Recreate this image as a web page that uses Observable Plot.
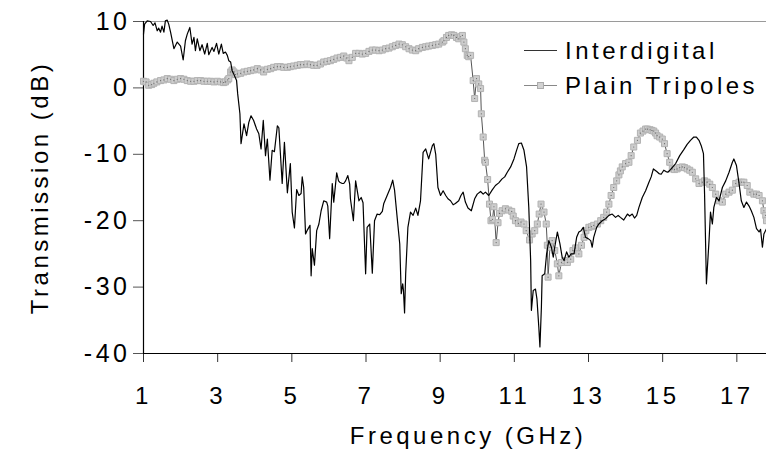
<!DOCTYPE html>
<html>
<head>
<meta charset="utf-8">
<script src="https://cdn.jsdelivr.net/npm/d3@7"></script>
<script src="https://cdn.jsdelivr.net/npm/@observablehq/plot@0.6"></script>
<style>
  html, body { margin: 0; padding: 0; background: #fff; }
  #wrap { position: relative; width: 766px; height: 466px; overflow: hidden; }
  #wrap svg text { letter-spacing: 3.5px; }
  #legend { position: absolute; left: 0; top: 0; }
  #legend text { letter-spacing: 4.5px; }
</style>
</head>
<body>
<div id="wrap"></div>
<script>
// Measured transmission spectra: [frequency in GHz, transmission in dB]
const seriesNames = ["Interdigital", "Plain Tripoles"];

const interdigital = [
  [1.00, 8.1], [1.03, 9.6], [1.10, 10.1], [1.19, 10.0], [1.26, 9.4], [1.31, 9.8], [1.37, 8.6], [1.41, 9.0],
  [1.46, 8.4], [1.50, 9.3], [1.55, 8.4], [1.59, 10.1], [1.64, 10.2], [1.68, 9.6], [1.73, 8.4], [1.82, 5.9],
  [1.91, 6.9], [2.00, 6.3], [2.07, 4.2], [2.13, 7.1], [2.18, 8.1], [2.25, 9.1], [2.31, 6.6], [2.36, 7.6],
  [2.40, 5.6], [2.45, 7.4], [2.52, 5.6], [2.58, 6.5], [2.65, 5.1], [2.72, 6.7], [2.76, 5.0], [2.85, 6.1],
  [2.90, 5.5], [2.97, 6.7], [3.03, 5.1], [3.10, 6.6], [3.15, 5.2], [3.21, 5.4], [3.26, 4.9], [3.30, 4.1],
  [3.35, 3.9], [3.39, 2.6], [3.44, 2.0], [3.51, 1.1], [3.54, -0.9], [3.60, -3.9], [3.63, -8.4], [3.71, -5.4],
  [3.78, -7.2], [3.84, -5.2], [3.90, -4.2], [3.97, -4.9], [4.05, -6.2], [4.11, -6.9], [4.17, -9.2], [4.23, -4.9],
  [4.29, -10.2], [4.34, -7.7], [4.41, -13.9], [4.47, -9.4], [4.53, -9.6], [4.61, -5.7], [4.65, -6.0], [4.74, -14.4],
  [4.80, -8.2], [4.88, -15.8], [4.96, -11.4], [5.01, -18.7], [5.07, -21.1], [5.13, -15.3], [5.19, -16.2], [5.25, -15.9],
  [5.28, -13.4], [5.32, -15.0], [5.37, -22.0], [5.41, -21.5], [5.49, -20.7], [5.52, -28.3], [5.55, -24.2], [5.61, -26.7],
  [5.67, -21.5], [5.73, -20.5], [5.79, -18.5], [5.86, -17.0], [5.94, -17.2], [5.97, -17.8], [6.02, -22.7], [6.09, -14.4],
  [6.13, -17.2], [6.21, -12.8], [6.26, -14.0], [6.29, -14.2], [6.36, -14.4], [6.40, -14.4], [6.45, -14.0], [6.51, -13.2],
  [6.56, -14.5], [6.58, -16.7], [6.66, -20.0], [6.72, -14.0], [6.81, -17.0], [6.87, -16.5], [6.92, -17.3], [6.99, -28.0],
  [7.03, -21.0], [7.10, -20.5], [7.17, -27.9], [7.23, -20.0], [7.30, -19.0], [7.37, -19.1], [7.44, -18.6], [7.48, -17.4],
  [7.57, -16.2], [7.66, -15.0], [7.72, -13.9], [7.77, -15.4], [7.84, -19.5], [7.91, -23.5], [7.95, -31.0], [7.99, -29.5],
  [8.01, -30.5], [8.04, -33.9], [8.07, -28.0], [8.13, -21.0], [8.20, -18.7], [8.27, -19.2], [8.34, -18.1], [8.40, -19.2],
  [8.47, -17.0], [8.54, -9.7], [8.61, -9.2], [8.69, -10.7], [8.79, -8.7], [8.83, -8.4], [8.88, -10.0], [8.94, -15.0],
  [9.01, -16.2], [9.08, -15.5], [9.15, -16.2], [9.21, -16.7], [9.28, -17.0], [9.35, -17.6], [9.41, -17.4], [9.50, -17.0],
  [9.56, -16.2], [9.62, -15.7], [9.68, -17.2], [9.75, -18.1], [9.84, -18.5], [9.93, -16.7], [10.00, -16.0], [10.09, -15.6],
  [10.16, -16.0], [10.22, -15.7], [10.31, -16.2], [10.40, -15.4], [10.49, -14.7], [10.58, -14.3], [10.67, -13.7], [10.74, -13.4],
  [10.81, -12.7], [10.90, -11.9], [10.99, -10.7], [11.06, -9.4], [11.12, -8.4], [11.19, -8.3], [11.26, -9.4], [11.33, -11.9],
  [11.39, -18.0], [11.44, -26.0], [11.46, -33.5], [11.51, -30.5], [11.57, -30.3], [11.61, -31.8], [11.66, -36.0], [11.69, -39.0],
  [11.73, -33.0], [11.75, -28.3], [11.82, -28.0], [11.87, -25.0], [11.93, -23.0], [12.00, -24.0], [12.05, -25.5], [12.08, -24.3],
  [12.16, -21.7], [12.23, -23.5], [12.29, -25.5], [12.34, -26.0], [12.41, -24.7], [12.47, -25.5], [12.53, -25.0], [12.61, -25.0],
  [12.68, -22.5], [12.74, -21.7], [12.80, -21.5], [12.86, -21.0], [12.92, -22.5], [12.99, -22.7], [13.06, -23.0], [13.10, -24.0],
  [13.14, -22.5], [13.22, -21.0], [13.28, -20.5], [13.37, -20.0], [13.46, -19.7], [13.55, -19.2], [13.64, -19.0], [13.73, -19.5],
  [13.80, -19.2], [13.86, -19.5], [13.95, -19.9], [14.05, -19.0], [14.11, -19.3], [14.18, -19.0], [14.24, -19.6], [14.30, -19.2],
  [14.36, -18.0], [14.45, -16.5], [14.54, -15.5], [14.63, -14.2], [14.69, -13.4], [14.75, -12.2], [14.84, -12.6], [14.90, -12.9],
  [14.96, -13.0], [15.03, -12.4], [15.09, -12.6], [15.14, -12.7], [15.21, -12.3], [15.35, -11.4], [15.46, -10.2], [15.57, -9.3],
  [15.66, -8.5], [15.75, -7.9], [15.84, -7.4], [15.91, -7.4], [15.98, -7.9], [16.04, -8.7], [16.10, -9.9], [16.13, -16.0],
  [16.18, -29.5], [16.25, -23.0], [16.29, -18.7], [16.34, -20.5], [16.38, -18.0], [16.45, -16.5], [16.52, -17.0], [16.61, -15.0],
  [16.70, -14.0], [16.79, -12.7], [16.88, -11.2], [16.92, -10.7], [16.99, -11.7], [17.06, -14.4], [17.12, -17.0], [17.19, -18.0],
  [17.26, -17.2], [17.33, -17.8], [17.39, -18.5], [17.46, -19.5], [17.53, -21.2], [17.60, -21.7], [17.64, -21.3], [17.69, -24.0],
  [17.73, -22.0], [17.80, -21.2]
];

const plainTripoles = [
  [1.00, 1.0], [1.07, 0.9], [1.14, 0.4], [1.22, 0.5], [1.28, 0.7], [1.36, 0.9], [1.46, 1.1], [1.55, 1.2],
  [1.64, 1.4], [1.73, 1.3], [1.82, 1.1], [1.91, 1.3], [2.00, 1.4], [2.09, 1.3], [2.18, 1.1], [2.27, 1.0],
  [2.36, 1.0], [2.45, 1.1], [2.54, 1.1], [2.63, 1.0], [2.72, 1.0], [2.81, 1.0], [2.90, 0.9], [2.99, 1.0],
  [3.08, 0.9], [3.16, 0.8], [3.21, 0.9], [3.27, 1.2], [3.30, 1.4], [3.35, 2.4], [3.39, 2.7], [3.44, 2.4],
  [3.48, 2.0], [3.53, 2.1], [3.62, 2.2], [3.71, 2.4], [3.80, 2.5], [3.89, 2.6], [3.97, 2.7], [4.07, 2.9],
  [4.16, 2.7], [4.24, 2.4], [4.34, 2.8], [4.43, 2.9], [4.51, 3.1], [4.61, 3.2], [4.69, 3.2], [4.78, 3.1],
  [4.88, 3.1], [4.96, 3.2], [5.05, 3.3], [5.15, 3.4], [5.23, 3.5], [5.32, 3.5], [5.41, 3.6], [5.50, 3.5],
  [5.59, 3.4], [5.68, 3.4], [5.77, 3.6], [5.86, 3.9], [5.95, 4.0], [6.04, 4.1], [6.13, 4.3], [6.22, 4.5],
  [6.31, 4.6], [6.40, 4.8], [6.48, 4.5], [6.54, 4.1], [6.63, 4.6], [6.72, 5.2], [6.81, 5.2], [6.90, 5.1],
  [6.99, 5.2], [7.08, 5.5], [7.17, 5.7], [7.26, 5.7], [7.35, 5.6], [7.44, 5.7], [7.53, 5.9], [7.62, 6.0],
  [7.71, 6.2], [7.80, 6.4], [7.89, 6.6], [7.98, 6.5], [8.07, 6.2], [8.16, 5.9], [8.25, 5.7], [8.34, 5.6],
  [8.42, 5.9], [8.52, 6.1], [8.61, 6.2], [8.69, 6.3], [8.79, 6.4], [8.88, 6.5], [8.96, 6.6], [9.06, 6.9],
  [9.10, 7.1], [9.17, 7.6], [9.23, 7.9], [9.31, 8.0], [9.37, 7.9], [9.44, 7.6], [9.50, 7.4], [9.55, 7.7],
  [9.60, 7.9], [9.64, 6.9], [9.68, 5.9], [9.73, 4.9], [9.77, 4.7], [9.82, 4.9], [9.89, 1.1], [9.93, -1.6],
  [9.98, 1.4], [10.04, 0.6], [10.09, -0.1], [10.11, -3.9], [10.16, -7.4], [10.20, -10.9], [10.22, -11.2], [10.28, -13.8],
  [10.33, -17.5], [10.37, -20.0], [10.41, -19.8], [10.45, -17.9], [10.51, -23.3], [10.56, -20.3], [10.60, -18.9], [10.67, -18.5],
  [10.76, -18.2], [10.85, -18.4], [10.93, -18.6], [10.97, -19.3], [11.03, -20.0], [11.11, -20.4], [11.18, -20.2], [11.26, -20.5],
  [11.32, -21.5], [11.41, -22.9], [11.48, -22.0], [11.55, -21.5], [11.62, -20.5], [11.67, -19.0], [11.72, -17.5], [11.80, -18.7],
  [11.86, -20.5], [11.89, -23.7], [11.91, -28.5], [11.96, -24.0], [12.02, -23.0], [12.09, -24.5], [12.16, -26.5], [12.20, -28.3],
  [12.27, -26.3], [12.36, -26.0], [12.43, -26.3], [12.52, -25.8], [12.58, -24.5], [12.65, -24.1], [12.74, -25.0], [12.81, -23.7],
  [12.88, -22.5], [12.93, -21.5], [13.01, -21.0], [13.08, -20.9], [13.14, -20.7], [13.24, -20.5], [13.33, -20.0], [13.41, -19.5],
  [13.49, -18.7], [13.55, -17.5], [13.61, -16.2], [13.68, -15.0], [13.76, -14.0], [13.82, -13.1], [13.86, -12.5], [13.91, -11.9],
  [14.00, -11.4], [14.09, -11.2], [14.15, -10.2], [14.22, -8.9], [14.32, -7.9], [14.40, -6.8], [14.47, -6.5], [14.54, -6.2],
  [14.59, -6.2], [14.66, -6.3], [14.71, -6.4], [14.76, -6.5], [14.81, -6.8], [14.85, -7.2], [14.92, -7.4], [14.99, -7.7],
  [15.05, -8.4], [15.12, -9.9], [15.19, -11.2], [15.26, -12.2], [15.32, -12.3], [15.39, -12.2], [15.46, -12.0], [15.53, -11.9],
  [15.59, -12.0], [15.66, -12.2], [15.73, -12.4], [15.80, -12.7], [15.89, -13.7], [15.98, -14.4], [16.07, -14.2], [16.13, -14.0],
  [16.20, -14.2], [16.27, -14.5], [16.34, -15.0], [16.43, -16.0], [16.52, -17.0], [16.61, -17.2], [16.70, -16.0], [16.79, -15.7],
  [16.88, -15.4], [16.97, -14.4], [17.06, -14.2], [17.13, -14.2], [17.19, -14.2], [17.28, -14.7], [17.35, -15.7], [17.46, -16.0],
  [17.53, -16.0], [17.60, -16.2], [17.69, -17.0], [17.73, -18.5], [17.78, -19.2], [17.80, -20.0]
];

const xTicks = [1, 3, 5, 7, 9, 11, 13, 15, 17];
const yTicks = [-40, -30, -20, -10, 0, 10];
const xTitle = "Frequency (GHz)";
const yTitle = "Transmission (dB)";

const toRows = (pairs) => pairs.map(([f, db]) => ({f, db}));
const interRows = toRows(interdigital);
const tripRows = toRows(plainTripoles);

const font = "'Liberation Sans', Arial, Helvetica, sans-serif";

const chart = Plot.plot({
  width: 766,
  height: 466,
  marginLeft: 143,
  marginRight: 0,
  marginTop: 21,
  marginBottom: 113,
  style: {fontFamily: font, fontSize: "24px", color: "#000", background: "#fff", overflow: "visible"},
  x: {domain: [1, 17.8]},
  y: {domain: [-40, 10]},
  marks: [
    Plot.ruleY([10], {stroke: "#9a9a9a", strokeWidth: 1.2}),
    Plot.axisX({ticks: xTicks, tickSize: 9, tickPadding: 24, tickFormat: d => String(d), label: null, stroke: "#333", fontSize: 24}),
    Plot.axisY({ticks: yTicks, tickSize: 10, tickPadding: 3, tickFormat: d => String(d), label: null, stroke: "#555", fontSize: 25}),
    Plot.ruleX([1], {stroke: "#000", strokeWidth: 1.2}),
    Plot.ruleY([-40], {stroke: "#000", strokeWidth: 1.2}),
    // Plain tripoles: thin dark trace under square markers
    Plot.line(tripRows, {x: "f", y: "db", stroke: "#555", strokeWidth: 1}),
    Plot.dot(tripRows, {x: "f", y: "db", symbol: "square", r: 3.4, fill: "#cdcdcd", stroke: "#b2b2b2", strokeWidth: 1}),
    Plot.dot(tripRows, {x: "f", y: "db", r: 0.6, fill: "#666", stroke: null}),
    // Interdigital trace on top
    Plot.line(interRows, {x: "f", y: "db", stroke: "#000", strokeWidth: 1.2}),
    Plot.text([xTitle], {text: d => d, frameAnchor: "bottom", dx: 13, dy: 90, fontSize: 24}),
    Plot.text([yTitle], {text: d => d, frameAnchor: "left", textAnchor: "middle", dx: -103, rotate: -90, fontSize: 24})
  ]
});

const wrap = document.getElementById("wrap");
wrap.appendChild(chart);

// Legend in the upper right of the plot area
const legend = d3.select(wrap).append("svg")
  .attr("id", "legend")
  .attr("width", 766)
  .attr("height", 466);

const items = legend.selectAll("g")
  .data(seriesNames)
  .join("g")
  .attr("transform", (d, i) => `translate(524,${50.5 + 35 * i})`);

items.append("line")
  .attr("x1", 0).attr("x2", 33)
  .attr("stroke", (d, i) => i ? "#888" : "#333")
  .attr("stroke-width", 1.2);

items.filter((d, i) => i === 1).append("rect")
  .attr("x", 13.5).attr("y", -3)
  .attr("width", 6).attr("height", 6)
  .attr("fill", "#d2d2d2").attr("stroke", "#ababab");

items.append("text")
  .attr("x", 41)
  .attr("dy", "0.35em")
  .attr("font-family", font)
  .attr("font-size", 24)
  .attr("fill", "#000")
  .text(d => d);
</script>
</body>
</html>
